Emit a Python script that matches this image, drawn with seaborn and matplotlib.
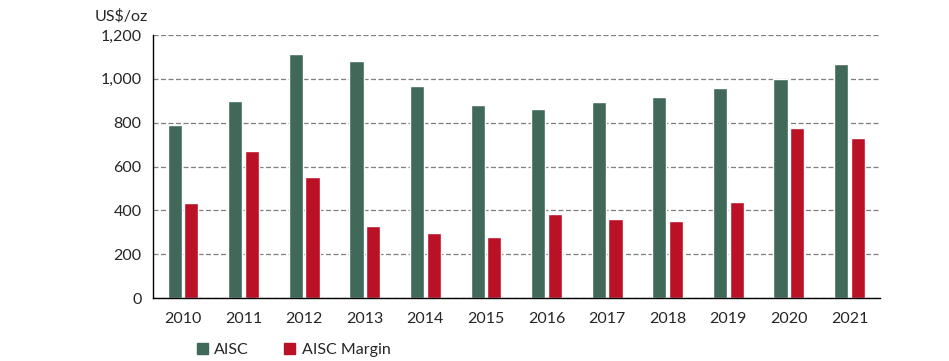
import seaborn as sns
import matplotlib.pyplot as plt
import pandas as pd
import numpy as np

years = ['2010', '2011', '2012', '2013', '2014', '2015', '2016', '2017', '2018', '2019', '2020', '2021']
aisc = [789, 899, 1113, 1081, 967, 880, 862, 894, 917, 958, 999, 1068]
aisc_margin = [433, 671, 552, 328, 297, 278, 383, 360, 351, 438, 776, 730]

series_names = ['AISC', 'AISC Margin']
colors = ['#41695a', '#ba1127']

df = pd.DataFrame({
    'year': years * 2,
    'value': aisc + aisc_margin,
    'series': [series_names[0]] * len(years) + [series_names[1]] * len(years),
})

sns.set_style("white")
plt.rcParams['font.family'] = ['Lato', 'DejaVu Sans']

fig = plt.figure(figsize=(9.49, 3.61), dpi=100)
ax = fig.add_axes([0.161, 0.1745, 0.766, 0.7285])

sns.barplot(data=df, x='year', y='value', hue='series', palette=colors,
            width=0.55, gap=0.15, saturation=1, ax=ax, legend=False)

ax.set_ylim(0, 1200)
ax.set_xlim(-0.5, len(years) - 0.5)
ax.set_yticks(range(0, 1201, 200))
ax.set_yticklabels(['{:,}'.format(v) for v in range(0, 1201, 200)])
ax.yaxis.grid(True, linestyle=(0, (4, 2)), color='#7f7f7f', linewidth=0.9)
ax.set_axisbelow(True)

for s in ['top', 'right']:
    ax.spines[s].set_visible(False)
for s in ['left', 'bottom']:
    ax.spines[s].set_color('black')
    ax.spines[s].set_linewidth(1.0)

ax.set_xticks(np.arange(len(years)))
ax.set_xticklabels(years)
ax.set_xticks(np.arange(-0.5, len(years)), minor=True)
ax.tick_params(axis='x', which='major', length=0, pad=10, labelsize=11.5)
ax.tick_params(axis='x', which='minor', length=5, width=1, direction='out', color='black')
ax.tick_params(axis='y', length=4, width=1, direction='out', color='black', labelsize=11.5, pad=4)
ax.set_xlabel('')
ax.set_ylabel('')

fig.text(0.1, 0.955, 'US$/oz', fontsize=11.5, ha='left', va='center')

handles = [plt.Rectangle((0, 0), 1, 1, color=c) for c in colors]
fig.legend(handles, series_names, loc='center left', bbox_to_anchor=(0.192, 0.03),
           ncol=2, frameon=False, fontsize=11.5, handlelength=0.7, handleheight=0.7,
           handletextpad=0.4, columnspacing=2.2)

fig.savefig('out.png', dpi=100)
